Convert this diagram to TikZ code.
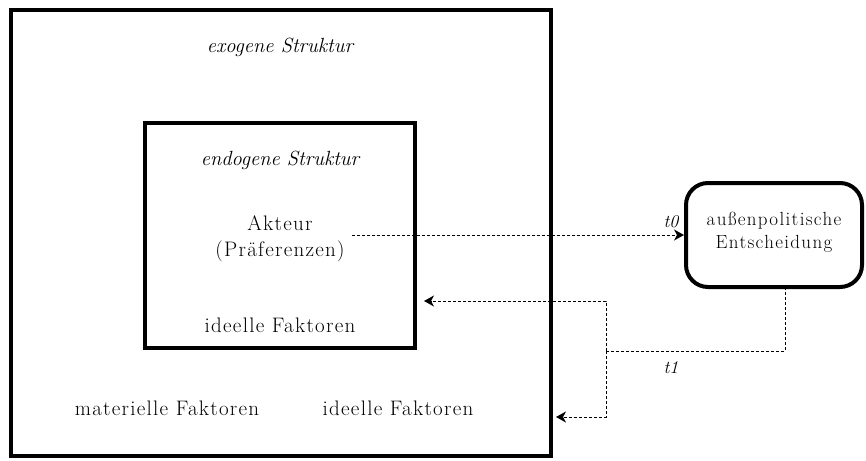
\documentclass[tikz,border=0pt]{standalone}
\usepackage{fontspec}
\setmainfont{Latin Modern Roman}
\newfontfamily\widerm[LetterSpace=6]{Latin Modern Roman}
\newfontfamily\widesm[LetterSpace=7]{Latin Modern Roman}
\usetikzlibrary{arrows.meta}
\begin{document}
\begin{tikzpicture}[x=1pt,y=-1pt,
  lbl/.style={font=\widerm\fontsize{21}{26}\selectfont, align=center, inner sep=0pt},
  ilbl/.style={font=\fontsize{20.5}{24}\selectfont\itshape, align=center, inner sep=0pt},
  small/.style={font=\widesm\fontsize{19}{23}\selectfont, align=center, inner sep=0pt},
  tlbl/.style={font=\fontsize{18}{20}\selectfont\itshape, inner sep=0pt},
  conn/.style={dash pattern=on 3pt off 2pt, line width=1pt, -{Stealth[length=10pt,width=11pt,inset=3pt]}},
  plain/.style={dash pattern=on 3pt off 2pt, line width=1pt}]
\useasboundingbox (0,0) rectangle (866,460);
\draw[line width=4pt] (11,10) rectangle (551,456);
\draw[line width=4pt] (145,123) rectangle (415,348);
\node[draw, line width=4pt, rounded corners=22pt, minimum width=176pt, minimum height=104pt] (dec) at (774,235) {};
\node[small] (dectext) at (774,232) {außenpolitische\\Entscheidung};
\node[ilbl] (exo) at (280,47) {exogene Struktur};
\node[ilbl] (endo) at (280,160) {endogene Struktur};
\node[lbl] (akt) at (280,239) {Akteur\\(Präferenzen)};
\node[lbl] (ideI) at (280,325) {ideelle Faktoren};
\node[lbl] (mat) at (167,408) {materielle Faktoren};
\node[lbl] (ideE) at (398,408) {ideelle Faktoren};
\node[tlbl] (t0) at (671,222) {t0};
\node[tlbl] (t1) at (671,368) {t1};
\coordinate (aS) at (352,235);
\coordinate (aE) at (684,235);
\coordinate (d0) at (785,287);
\coordinate (d1) at (785,351);
\coordinate (j) at (606,351);
\coordinate (up) at (606,301);
\coordinate (upE) at (424,301);
\coordinate (lo) at (606,417);
\coordinate (loE) at (556,417);
\draw[conn] (aS) -- (aE);
\draw[plain] (d0) -- (d1) -- (j);
\draw[conn] (j) -- (up) -- (upE);
\draw[conn] (j) -- (lo) -- (loE);
\end{tikzpicture}
\end{document}
